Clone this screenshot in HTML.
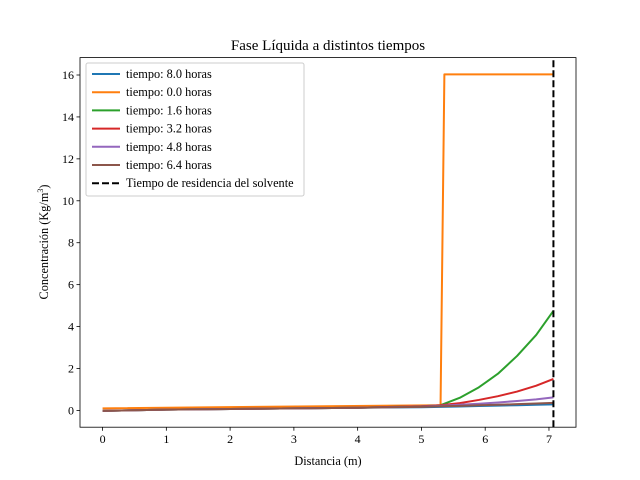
<!DOCTYPE html>
<html><head><meta charset="utf-8"><style>
body{margin:0;background:#fff}
svg{display:block;font-family:"Liberation Serif","DejaVu Serif",serif}
</style></head><body>
<svg id="chart" width="640" height="480"></svg>
<script>
const xs=[0,1,2,3,4,5,5.3,5.6,5.9,6.2,6.5,6.8,7.07];
const labels=["tiempo: 8.0 horas","tiempo: 0.0 horas","tiempo: 1.6 horas","tiempo: 3.2 horas","tiempo: 4.8 horas","tiempo: 6.4 horas"];
const colors=["#1f77b4","#ff7f0e","#2ca02c","#d62728","#9467bd","#8c564b"];
const s8=[-0.02,0.04,0.07,0.1,0.13,0.15,0.17,0.19,0.21,0.23,0.25,0.27,0.29];
const s16=[-0.02,0.04,0.07,0.1,0.13,0.17,0.2,0.22,0.25,0.27,0.3,0.33,0.36];
const s48=[-0.02,0.04,0.07,0.1,0.13,0.18,0.22,0.27,0.32,0.38,0.45,0.53,0.62];
const s32=[-0.02,0.04,0.07,0.1,0.13,0.2,0.25,0.35,0.5,0.68,0.9,1.18,1.5];
const sGreen=[-0.02,0.04,0.07,0.1,0.13,0.2,0.25,0.6,1.1,1.75,2.6,3.6,4.75];
const orangeX=[0,5.3,5.36,7.07];
const orangeY=[0.1,0.25,16.03,16.03];
const residence=7.07;
const xTicks=[0,1,2,3,4,5,6,7];
const yTicks=[0,2,4,6,8,10,12,14,16];
const L=80,R=576,T=57.6,B=427.2,xmin=-0.354,xmax=7.424,ymin=-0.8,ymax=16.83;
const X=v=>L+(v-xmin)/(xmax-xmin)*(R-L);
const Y=v=>B-(v-ymin)/(ymax-ymin)*(B-T);
const svg=document.getElementById('chart');const NS="http://www.w3.org/2000/svg";
function mk(t,a,p){const e=document.createElementNS(NS,t);for(const k in a)e.setAttribute(k,a[k]);(p||svg).appendChild(e);return e;}
function txt(x,y,s,size,anchor,name){const e=mk('text',{x:x,y:y,'font-size':size,'text-anchor':anchor,fill:'#000'});e.textContent=s;return e;}
function line(px,py,color,name,dash){const d=px.map((x,i)=>(i?'L':'M')+X(x).toFixed(2)+','+Y(py[i]).toFixed(2)).join('');const e=mk('path',{d:d,fill:'none',stroke:color,'stroke-width':2,'stroke-linejoin':'round'});if(dash)e.setAttribute('stroke-dasharray',dash);return e;}
const series=[s8,orangeY,sGreen,s32,s48,s16];
series.forEach((s,i)=>{if(i==1)line(orangeX,orangeY,colors[1],'series-0-0h');else line(xs,s,colors[i],'series-'+i);});
line([residence,residence],[ymin,ymax],'#000','residence-line','7,3');
const fr=mk('rect',{x:L,y:T,width:R-L,height:B-T,fill:'none',stroke:'#000','stroke-width':0.8});

xTicks.forEach(t=>{const tk=mk('line',{x1:X(t),x2:X(t),y1:B,y2:B+3.5,stroke:'#000','stroke-width':0.8});txt(X(t),B+16,String(t),12,'middle','x-tick-label');});
yTicks.forEach(t=>{const tk=mk('line',{x1:L-3.5,x2:L,y1:Y(t),y2:Y(t),stroke:'#000','stroke-width':0.8});txt(L-6,Y(t)+4,String(t),12,'end','y-tick-label');});
txt(328,50,'Fase Líquida a distintos tiempos',15,'middle','chart-title');
txt(328,465,'Distancia (m)',12.3,'middle','x-axis-title');
const yt=txt(0,0,'',12.3,'middle','y-axis-title');yt.setAttribute('transform','translate(48,242) rotate(-90)');yt.innerHTML='Concentración (Kg/m<tspan font-size="8" dy="-5">3</tspan><tspan dy="5">)</tspan>';
const lg=mk('rect',{x:86,y:63,width:218,height:133,fill:'#fff','fill-opacity':0.8,stroke:'#ccc',rx:2});

const allL=labels.concat(['Tiempo de residencia del solvente']);
allL.forEach((s,i)=>{const y=74+i*18.2;const c=i<6?colors[i]:'#000';const ln=mk('line',{x1:92,x2:120,y1:y,y2:y,stroke:c,'stroke-width':2});if(i==6)ln.setAttribute('stroke-dasharray','7,3');txt(126,y+4,s,12.3,'start','legend-entry');});
</script>
</body></html>
